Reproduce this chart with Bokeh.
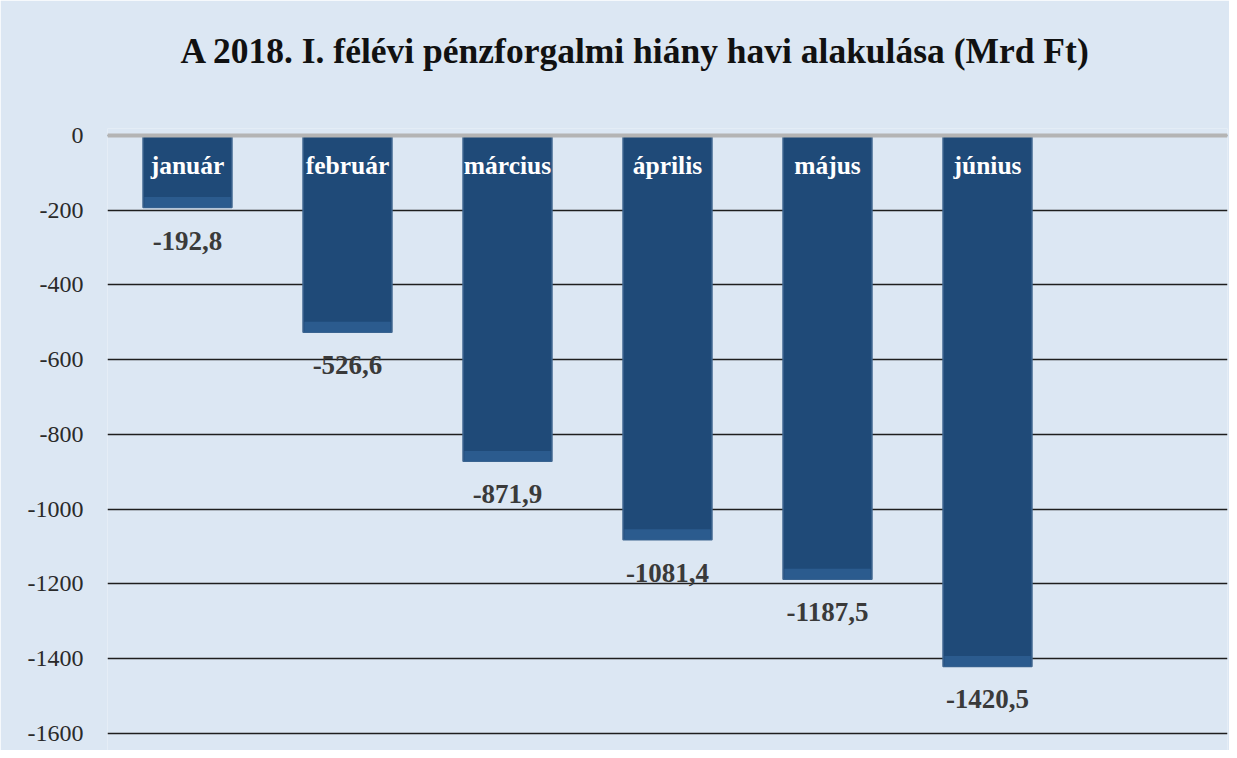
from bokeh.plotting import figure
from bokeh.models import ColumnDataSource, FixedTicker, Span, Range1d, Title
from bokeh.core.properties import value
from bokeh.embed import file_html
from bokeh.resources import INLINE

months = ["január", "február", "március", "április", "május", "június"]
values = [-192.8, -526.6, -871.9, -1081.4, -1187.5, -1420.5]
value_labels = ["-192,8", "-526,6", "-871,9", "-1081,4", "-1187,5", "-1420,5"]
y_ticks = [0, -200, -400, -600, -800, -1000, -1200, -1400, -1600]
title_text = "A 2018. I. félévi pénzforgalmi hiány havi alakulása (Mrd Ft)"

xs = list(range(1, len(months) + 1))
src = ColumnDataSource(dict(x=xs, top=[0] * len(values), bottom=values,
                            month=months, lab=value_labels,
                            bev=[v + 28 for v in values], zero=[0] * len(values)))

BG = "#dce7f3"
FONT = "Liberation Serif"

p = figure(width=1229, height=750, output_backend="svg", toolbar_location=None,
           x_range=Range1d(0.5, 7.5), y_range=Range1d(-1645.5, 18.7))
p.background_fill_color = BG
p.border_fill_color = BG
p.outline_line_color = None
p.min_border_left = 107
p.min_border_right = 2
p.min_border_bottom = 0
p.min_border_top = 128

# spacer between the frame and the title (nearest the frame)
p.add_layout(Title(text=" ", text_font_size="1px", standoff=55), "above")
p.add_layout(Title(text=title_text, align="left", offset=73, standoff=0,
                   vertical_align="bottom", text_font=FONT,
                   text_font_size="35.5px", text_font_style="bold",
                   text_color="#111111"), "above")

p.xaxis.visible = False
p.xgrid.visible = False
p.yaxis.ticker = FixedTicker(ticks=y_ticks)
p.yaxis.major_label_overrides = {t: str(t) for t in y_ticks}
p.yaxis.axis_line_color = None
p.yaxis.major_tick_line_color = None
p.yaxis.minor_tick_line_color = None
p.yaxis.major_label_standoff = 18
p.yaxis.major_label_text_font = FONT
p.yaxis.major_label_text_font_size = "24px"
p.yaxis.major_label_text_color = "#2a2a2a"
p.ygrid.grid_line_color = "#1e1e1e"
p.ygrid.grid_line_width = 1.5

p.vbar(x="x", top="top", bottom="bottom", width=0.556, source=src,
       fill_color="#1f4a78", line_color="#3f6690", line_width=1.5)
p.vbar(x="x", top="bev", bottom="bottom", width=0.54, source=src,
       fill_color="#2b5b8e", line_color=None)

p.add_layout(Span(location=0, dimension="width", line_color="#b4b4b4", line_width=4))

p.text(x="x", y="zero", text="month", source=src, text_align="center",
       text_baseline="middle", y_offset=30, text_color="white",
       text_font=value(FONT), text_font_size="25.5px", text_font_style="bold")
p.text(x="x", y="bottom", text="lab", source=src, text_align="center",
       text_baseline="middle", y_offset=33, text_color="#3a3a3a",
       text_font=value(FONT), text_font_size="27px", text_font_style="bold")

open("out.html", "w").write(file_html(p, INLINE))
